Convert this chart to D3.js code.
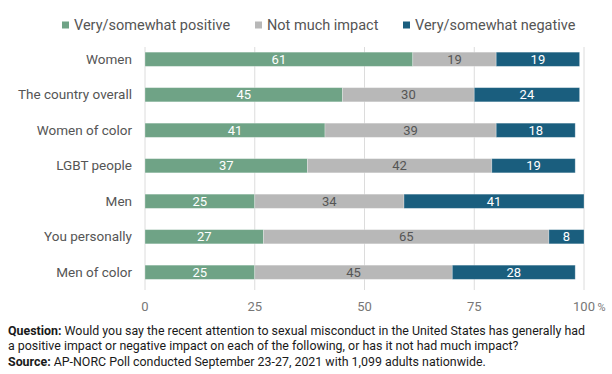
<!DOCTYPE html>
<html>
<head>
<meta charset="utf-8">
<script src="https://cdn.jsdelivr.net/npm/d3@7"></script>
<style>
  body { margin: 0; background: #fff; }
  svg { display: block; font-family: Roboto, "Liberation Sans", sans-serif; }
</style>
</head>
<body>
<svg width="612" height="374"></svg>
<script>
'use strict';

// the data
var categories = ['Women', 'The country overall', 'Women of color', 'LGBT people', 'Men', 'You personally', 'Men of color'];
var positive = [61, 45, 41, 37, 25, 27, 25];
var noImpact = [19, 30, 39, 42, 34, 65, 45];
var negative = [19, 24, 18, 19, 41, 8, 28];
var seriesNames = ['Very/somewhat positive', 'Not much impact', 'Very/somewhat negative'];
var tickValues = [0, 25, 50, 75, 100];

var colors = ['#6fa386', '#b8b8b8', '#1a5e7e'];
var labelColors = ['#fff', '#555', '#fff'];

// build rows for the stack
var rows = categories.map(function(c, i){
  return {cat: c, s0: positive[i], s1: noImpact[i], s2: negative[i]};
});
var stack = d3.stack().keys(['s0', 's1', 's2'])(rows);

var svg = d3.select('svg');

var x = d3.scaleLinear().domain([0, 100]).range([145, 584]);
var y = d3.scaleBand().domain(categories).range([41.5, 290]).paddingInner(0.6).paddingOuter(0.3);

// gridlines
svg.append('g').selectAll('line')
  .data(tickValues)
  .enter().append('line')
  .attr('x1', function(d){ return x(d); })
  .attr('x2', function(d){ return x(d); })
  .attr('y1', 47)
  .attr('y2', 290)
  .attr('stroke', '#dcdcdc')
  .attr('stroke-width', 1);

// x tick labels
svg.append('g').selectAll('text')
  .data(tickValues)
  .enter().append('text')
  .attr('x', function(d){ return x(d); })
  .attr('y', 311)
  .attr('text-anchor', 'middle')
  .attr('font-size', 13)
  .attr('fill', '#777')
  .text(function(d){ return d; });
svg.append('text')
  .attr('x', x(100) + 13.5)
  .attr('y', 311)
  .attr('font-size', 11)
  .attr('fill', '#777')
  .text('%');

// category labels
svg.append('g').selectAll('text')
  .data(categories)
  .enter().append('text')
  .attr('x', 132)
  .attr('y', function(d){ return y(d) + y.bandwidth() / 2; })
  .attr('dy', '0.35em')
  .attr('text-anchor', 'end')
  .attr('font-size', 13.5)
  .attr('fill', '#555')
  .text(function(d){ return d; });

// bars
var layers = svg.append('g').selectAll('g')
  .data(stack)
  .enter().append('g');

layers.selectAll('rect')
  .data(function(layer){ return layer.map(function(d){ return {k: layer.index, d: d}; }); })
  .enter().append('rect')
  .attr('x', function(o){ return x(o.d[0]); })
  .attr('y', function(o){ return y(o.d.data.cat); })
  .attr('width', function(o){ return x(o.d[1]) - x(o.d[0]); })
  .attr('height', y.bandwidth())
  .attr('fill', function(o){ return colors[o.k]; })
  .attr('stroke', '#fff')
  .attr('stroke-opacity', 0.35)
  .attr('stroke-width', 0.8);

layers.selectAll('text')
  .data(function(layer){ return layer.map(function(d){ return {k: layer.index, d: d}; }); })
  .enter().append('text')
  .attr('x', function(o){ return (x(o.d[0]) + x(o.d[1])) / 2; })
  .attr('y', function(o){ return y(o.d.data.cat) + y.bandwidth() / 2; })
  .attr('dy', '0.36em')
  .attr('text-anchor', 'middle')
  .attr('font-size', 13)
  .attr('fill', function(o){ return labelColors[o.k]; })
  .text(function(o){ return o.d[1] - o.d[0]; });

// legend
var legendX = [62, 255, 403];
var lg = svg.append('g').selectAll('g')
  .data(seriesNames)
  .enter().append('g')
  .attr('transform', function(d, i){ return 'translate(' + legendX[i] + ',25)'; });
lg.append('rect')
  .attr('x', 0).attr('y', -3.5)
  .attr('width', 7).attr('height', 7)
  .attr('fill', function(d, i){ return colors[i]; });
lg.append('text')
  .attr('x', 12)
  .attr('dy', '0.35em')
  .attr('font-size', 14.5)
  .attr('fill', '#555')
  .text(function(d){ return d; });

// footnote
var notes = [
  ['Question:', ' Would you say the recent attention to sexual misconduct in the United States has generally had'],
  ['', 'a positive impact or negative impact on each of the following, or has it not had much impact?'],
  ['Source:', ' AP-NORC Poll conducted September 23-27, 2021 with 1,099 adults nationwide.']
];
var nt = svg.append('g').selectAll('text')
  .data(notes)
  .enter().append('text')
  .attr('x', 8)
  .attr('y', function(d, i){ return 335 + i * 15.3; })
  .attr('font-size', 12.4)
  .attr('fill', '#1a1a1a');
nt.append('tspan').attr('font-weight', 'bold').text(function(d){ return d[0]; });
nt.append('tspan').text(function(d){ return d[1]; });
</script>
</body>
</html>
